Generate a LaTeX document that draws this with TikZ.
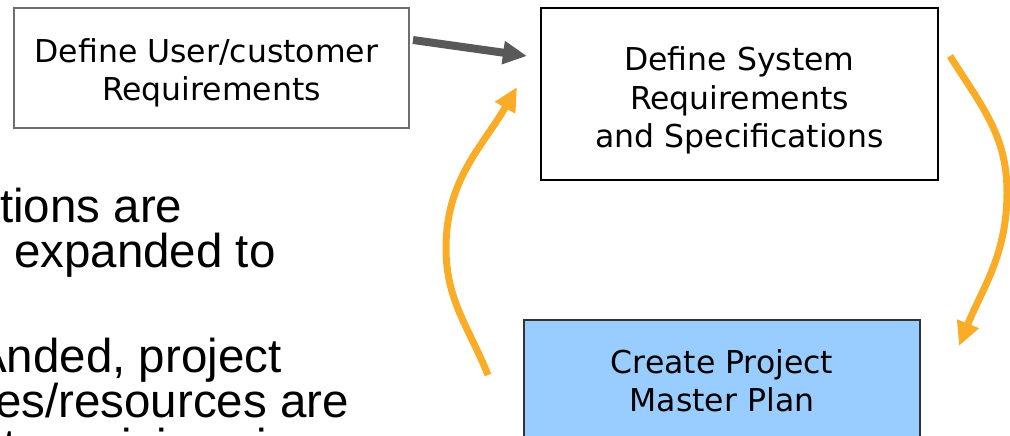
\documentclass[tikz,border=0pt]{standalone}
\usepackage{fontspec}
\setmainfont{Liberation Sans}
\newfontfamily\boxfont{DejaVu Sans}
\usetikzlibrary{arrows.meta}

\definecolor{flowgray}{RGB}{89,89,89}
\definecolor{flowamber}{RGB}{250,172,38}
\definecolor{planblue}{RGB}{153,204,255}
\definecolor{edgegray}{RGB}{110,110,110}

\begin{document}
\begin{tikzpicture}[x=1pt,y=-1pt,
  stepbox/.style={draw, line width=1.6pt, align=center, inner sep=0pt,
    font=\boxfont\fontsize{31.5pt}{38.3pt}\selectfont},
  bodytext/.style={anchor=base west, inner sep=0pt,
    font=\fontsize{47.5pt}{45pt}\selectfont},
  grayflow/.style={draw=flowgray, line width=8pt,
    -{Triangle[length=24pt,width=22pt]}},
  amberflow/.style={draw=flowamber, line width=7pt,
    -{Triangle[length=24pt,width=22pt]}},
]
\useasboundingbox (0,0) rectangle (1010,436);
\begin{scope}
  \clip (0,0) rectangle (1010,436);

  % process boxes
  \node[stepbox, draw=edgegray, minimum width=395pt, minimum height=120pt]
    (userreq) at (211.5,68)
    {\rule{0pt}{33.8pt}Define User/customer\kern10pt\\Requirements};
  \node[stepbox, draw=black, minimum width=397pt, minimum height=172pt]
    (sysreq) at (739.5,94)
    {\rule{0pt}{36.9pt}Define System\\Requirements\\and Specifications};
  \node[stepbox, draw=black!80, fill=planblue, minimum width=396pt, minimum height=121pt]
    (masterplan) at (722,380.5)
    {Create Project\\Master Plan};

  % running text on the left
  \node[bodytext] (bodyA) at (0,222) {tions are};
  \node[bodytext] (bodyB) at (14,267) {expanded to};
  \node[bodytext] (bodyC) at (-25,372) {Anded, project};
  \node[bodytext] (bodyD) at (-5,417) {es/resources are};
  \node[bodytext] (bodyE) at (3,462) {to revisions in};

  % connectors
  \coordinate (gs) at (413,40);
  \coordinate (ge) at (527,56);
  \draw[grayflow] (gs) -- (ge);

  \coordinate (la) at (488,375);
  \coordinate (lm) at (446,248);
  \coordinate (lt) at (517,87);
  \draw[amberflow] (la) to[out=112,in=-90] (lm) to[out=90,in=-120] (lt);

  \coordinate (ra) at (950,56);
  \coordinate (rm) at (1007,192);
  \coordinate (rt) at (959,346);
  \draw[amberflow] (ra) to[out=-58,in=90] (rm) to[out=-90,in=68] (rt);
\end{scope}
\end{tikzpicture}
\end{document}
